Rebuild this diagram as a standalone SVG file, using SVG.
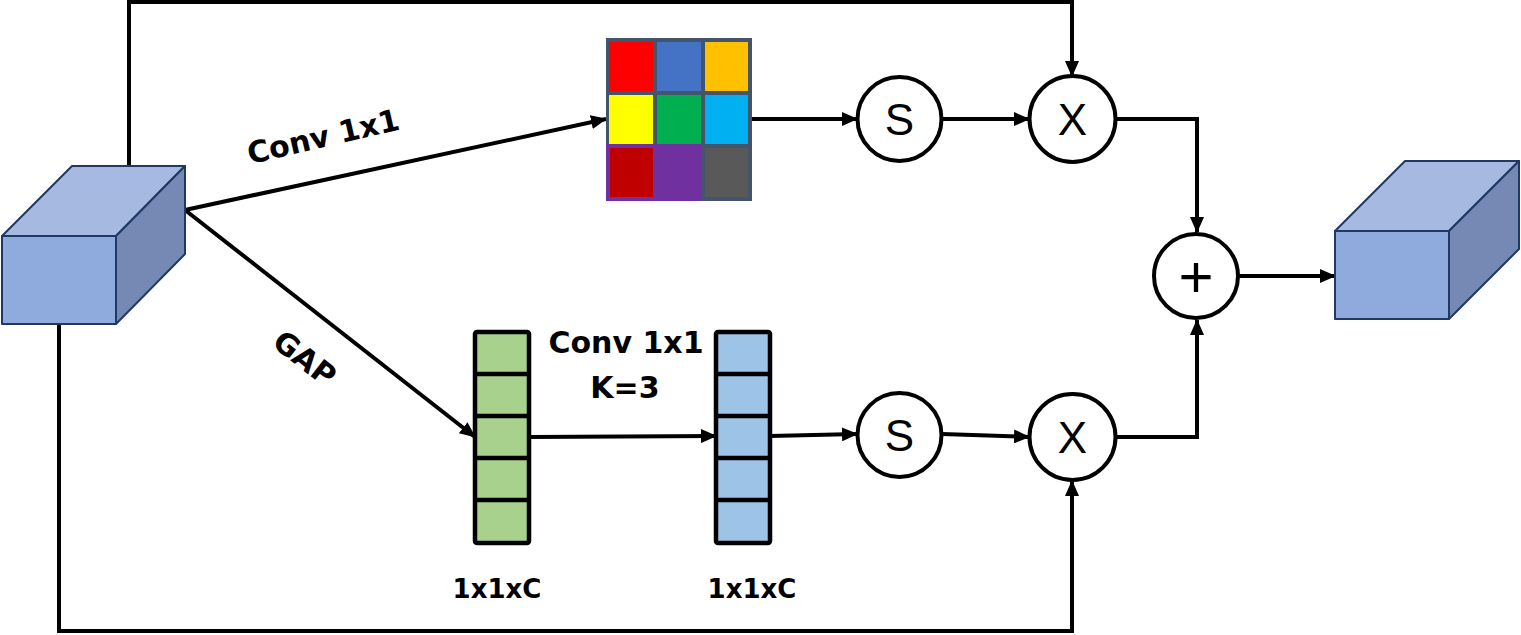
<svg xmlns="http://www.w3.org/2000/svg" width="1521" height="635" viewBox="0 0 1521 635">
<defs>
<marker id="arr" markerUnits="userSpaceOnUse" markerWidth="16" markerHeight="14" refX="15" refY="7" orient="auto">
<path d="M0,0 L16,7 L0,14 Z" fill="#000"/>
</marker>
<style>
.ln{fill:none;stroke:#000;stroke-width:4;stroke-linejoin:miter}
.cube{stroke:#1F3864;stroke-width:2;stroke-linejoin:round}
.front{fill:#8FAADC}.top{fill:#A6B9E1}.side{fill:#7689B4}
.op{fill:#fff;stroke:#000;stroke-width:4}
.opt{font-family:"Liberation Sans",Arial,sans-serif;font-size:44px;text-anchor:middle;fill:#000}
.lbl{font-family:"DejaVu Sans",sans-serif;font-weight:bold;font-size:30px;fill:#000;text-anchor:middle}
.sm{font-family:"DejaVu Sans",sans-serif;font-weight:bold;font-size:26px;fill:#000;text-anchor:middle}
.bar{stroke:#000;stroke-width:4.5;stroke-linejoin:round}
</style>
</defs>
<rect width="1521" height="635" fill="#fff"/>

<g id="connectors">
<polyline class="ln" points="129,165 129,2 1072,2 1072,76" marker-end="url(#arr)"/>
<polyline class="ln" points="59,324 59,631 1072,631 1072,481" marker-end="url(#arr)"/>
<line class="ln" x1="185" y1="210" x2="606" y2="119" marker-end="url(#arr)"/>
<line class="ln" x1="185" y1="210" x2="475" y2="437" marker-end="url(#arr)"/>
<line class="ln" x1="529" y1="437" x2="716" y2="436" marker-end="url(#arr)"/>
<line class="ln" x1="770" y1="436" x2="857" y2="434" marker-end="url(#arr)"/>
<line class="ln" x1="942" y1="434" x2="1029" y2="437" marker-end="url(#arr)"/>
<polyline class="ln" points="1116,437 1197,437 1197,320" marker-end="url(#arr)"/>
<line class="ln" x1="752" y1="119" x2="857" y2="119" marker-end="url(#arr)"/>
<line class="ln" x1="942" y1="119" x2="1029" y2="119" marker-end="url(#arr)"/>
<polyline class="ln" points="1116,119 1197,119 1197,232" marker-end="url(#arr)"/>
<line class="ln" x1="1238" y1="276" x2="1335" y2="276" marker-end="url(#arr)"/>
</g>

<g id="input-cube" class="cube">
<polygon class="top" points="2,236 72,166 185,166 116,236"/>
<polygon class="side" points="116,236 185,166 185,254 116,324"/>
<rect class="front" x="2" y="236" width="114" height="88"/>
</g>

<g id="output-cube" class="cube">
<polygon class="top" points="1335,231 1405,161 1519,161 1449,231"/>
<polygon class="side" points="1449,231 1519,161 1519,249 1449,319"/>
<rect class="front" x="1335" y="231" width="114" height="88"/>
</g>

<g id="grid">
<rect x="606" y="38" width="146" height="163" fill="#44546A"/>
<rect x="606" y="144" width="96" height="57" fill="#7030A0"/>
<rect x="609" y="42" width="44" height="49" fill="#FF0000"/>
<rect x="657" y="42" width="44" height="49" fill="#4472C4"/>
<rect x="705" y="42" width="43" height="49" fill="#FFC000"/>
<rect x="609" y="95" width="44" height="49" fill="#FFFF00"/>
<rect x="657" y="95" width="44" height="49" fill="#00B050"/>
<rect x="705" y="95" width="43" height="49" fill="#00B0F0"/>
<rect x="610" y="148" width="43" height="49" fill="#C00000"/>
<rect x="705" y="148" width="43" height="49" fill="#595959"/>
</g>

<g id="green-bar">
<rect class="bar" x="475" y="332" width="54" height="211" rx="2" fill="#A9D18E"/>
<path class="ln" style="stroke-width:4.5" d="M475,374H529M475,416H529M475,458H529M475,500H529"/>
<text class="sm" x="497" y="598">1x1xC</text>
</g>

<g id="blue-bar">
<rect class="bar" x="716" y="332" width="54" height="211" rx="2" fill="#9DC3E6"/>
<path class="ln" style="stroke-width:4.5" d="M716,374H770M716,416H770M716,458H770M716,500H770"/>
<text class="sm" x="752" y="598">1x1xC</text>
</g>

<g id="labels">
<text class="lbl" transform="translate(323,136) rotate(-13)" x="0" y="11">Conv 1x1</text>
<text class="lbl" transform="translate(305,358) rotate(38)" x="0" y="11">GAP</text>
<text class="lbl" x="626" y="353">Conv 1x1</text>
<text class="lbl" x="625" y="398">K=3</text>
</g>

<g id="sigmoid-top">
<circle class="op" cx="899.5" cy="119" r="42"/>
<text class="opt" x="899.5" y="135">S</text>
</g>
<g id="mult-top">
<circle class="op" cx="1072.5" cy="119" r="43"/>
<text class="opt" x="1072.5" y="135">X</text>
</g>
<g id="sigmoid-bottom">
<circle class="op" cx="899.5" cy="435" r="42"/>
<text class="opt" x="899.5" y="451">S</text>
</g>
<g id="mult-bottom">
<circle class="op" cx="1072.5" cy="437" r="43"/>
<text class="opt" x="1072.5" y="453">X</text>
</g>
<g id="add">
<circle class="op" cx="1196" cy="276" r="42"/>
<text class="opt" style="font-size:60px" x="1196" y="297">+</text>
</g>
</svg>
